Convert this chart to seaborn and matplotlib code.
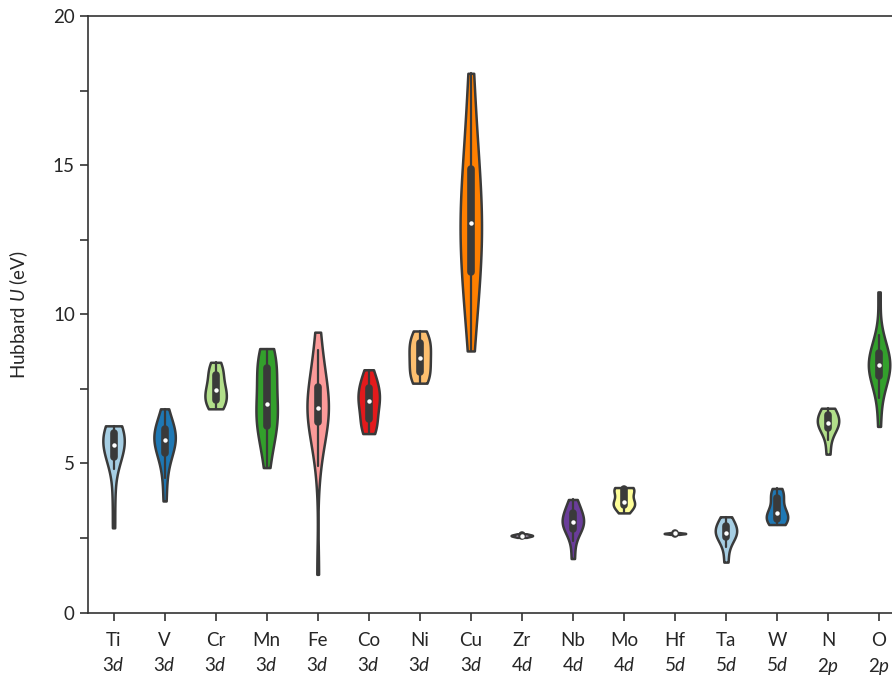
import matplotlib
matplotlib.use("Agg")
import matplotlib.pyplot as plt
import pandas as pd
import seaborn as sns

# element labels (symbol, shell)
elements = ['Ti', 'V', 'Cr', 'Mn', 'Fe', 'Co', 'Ni', 'Cu',
            'Zr', 'Nb', 'Mo', 'Hf', 'Ta', 'W', 'N', 'O']
shells = ['3d', '3d', '3d', '3d', '3d', '3d', '3d', '3d',
          '4d', '4d', '4d', '5d', '5d', '5d', '2p', '2p']

# Hubbard U values (eV) per element
u_Ti = [2.84, 3.9, 4.8, 5.1, 5.25, 5.4, 5.5, 5.6, 5.65, 5.75, 5.9, 6.0, 6.1, 6.15, 6.2, 6.26]
u_V = [3.74, 4.5, 5.0, 5.3, 5.4, 5.6, 5.7, 5.8, 5.85, 5.95, 6.1, 6.2, 6.3, 6.5, 6.83]
u_Cr = [6.83, 6.9, 7.0, 7.1, 7.2, 7.3, 7.45, 7.5, 7.6, 7.8, 8.0, 8.1, 8.25, 8.39]
u_Mn = [4.86, 5.5, 5.9, 6.1, 6.25, 6.5, 6.7, 6.9, 7.0, 7.3, 7.6, 7.9, 8.2, 8.3, 8.5, 8.7, 8.85]
u_Fe = [1.28, 4.9, 5.6, 6.0, 6.3, 6.45, 6.55, 6.65, 6.75, 6.85, 6.95, 7.1, 7.3, 7.5, 7.65, 8.0, 8.4, 8.79, 9.40]
u_Co = [6.0, 6.1, 6.25, 6.4, 6.6, 6.8, 7.0, 7.1, 7.15, 7.3, 7.45, 7.6, 7.7, 7.9, 8.14]
u_Ni = [7.69, 7.8, 7.95, 8.1, 8.3, 8.5, 8.6, 8.8, 9.0, 9.1, 9.25, 9.44]
u_Cu = [8.77, 9.8, 10.5, 11.0, 11.3, 11.8, 12.3, 12.7, 13.0, 13.1, 13.5, 14.0, 14.5, 15.0, 15.3, 16.0, 17.0, 18.08]
u_Zr = [2.52, 2.55, 2.57, 2.58, 2.59, 2.61, 2.64]
u_Nb = [1.81, 2.4, 2.75, 2.8, 2.9, 3.0, 3.05, 3.1, 3.2, 3.35, 3.45, 3.6, 3.79]
u_Mo = [3.34, 3.5, 3.58, 3.65, 3.7, 3.72, 3.95, 4.12, 4.15, 4.17, 4.19]
u_Hf = [2.62, 2.64, 2.65, 2.65, 2.66, 2.68]
u_Ta = [1.69, 2.2, 2.5, 2.6, 2.65, 2.7, 2.8, 2.95, 3.05, 3.21]
u_W = [2.95, 3.0, 3.05, 3.15, 3.25, 3.3, 3.35, 3.5, 3.8, 3.95, 4.0, 4.16]
u_N = [5.31, 5.8, 6.1, 6.25, 6.3, 6.35, 6.4, 6.55, 6.7, 6.75, 6.85]
u_O = [6.24, 7.2, 7.7, 7.85, 8.0, 8.15, 8.25, 8.3, 8.35, 8.45, 8.6, 8.8, 8.9, 9.3, 10.75]

values = [u_Ti, u_V, u_Cr, u_Mn, u_Fe, u_Co, u_Ni, u_Cu,
          u_Zr, u_Nb, u_Mo, u_Hf, u_Ta, u_W, u_N, u_O]

rows = []
for el, vals in zip(elements, values):
    for v in vals:
        rows.append({'element': el, 'U': v})
data = pd.DataFrame(rows)

sns.set_style("ticks")
plt.rcParams['font.family'] = ['Lato', 'DejaVu Sans']
plt.rcParams['mathtext.fontset'] = 'custom'
plt.rcParams['mathtext.rm'] = 'Lato'
plt.rcParams['mathtext.it'] = 'Lato:italic'

fig = plt.figure(figsize=(8.92, 6.76), dpi=100)
ax = fig.add_axes([0.0987, 0.0939, 0.9154, 0.8824])

sns.violinplot(
    data=data,
    x='element',
    y='U',
    hue='element',
    order=elements,
    hue_order=elements,
    palette='Paired',
    cut=0,
    inner='box',
    density_norm='width',
    width=0.42,
    linewidth=1.8,
    linecolor='#3a3a3a',
    inner_kws=dict(box_width=5.5, whis_width=1.6, marker='o'),
    legend=False,
    saturation=1,
    ax=ax,
)

# small white median dots and rounded box ends
for line in ax.lines:
    if line.get_marker() == 'o':
        line.set_markersize(3.2)
        line.set_markeredgewidth(0)
        line.set_markerfacecolor('white')
    elif line.get_linewidth() > 5:
        line.set_solid_capstyle('round')

ax.set_xlim(-0.5, 15.5)
ax.set_ylim(0, 20)
ax.set_yticks([0, 5, 10, 15, 20])
ax.set_yticks([2.5, 7.5, 12.5, 17.5], minor=True)
ax.set_xticks(range(len(elements)))
ax.set_xticklabels([f"{e}\n{s[0]}$\\mathit{{{s[1]}}}$" for e, s in zip(elements, shells)],
                   linespacing=1.45)
ax.tick_params(axis='both', which='major', labelsize=13.5, length=6, width=1.2, color='#333333')
ax.tick_params(axis='y', which='minor', length=6, width=1.2, color='#333333')
ax.tick_params(axis='x', pad=8)
for s in ax.spines.values():
    s.set_linewidth(1.2)
    s.set_color('#333333')

ax.set_xlabel('')
ax.set_ylabel('Hubbard $\\mathit{U}$ (eV)', fontsize=13.5)
ax.yaxis.set_label_coords(-0.071, 0.5)

plt.savefig('out.png', dpi=100)
